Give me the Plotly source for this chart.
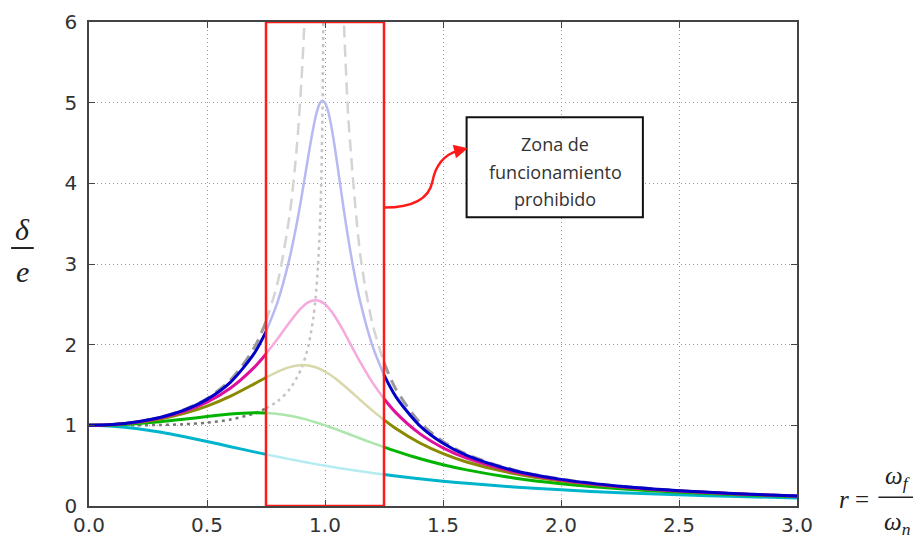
import plotly.graph_objects as go

# ---- data ----
r_grid = [0, 0.1, 0.2, 0.3, 0.4, 0.5, 0.6, 0.7, 0.75, 0.8, 0.85, 0.9, 0.93, 0.96, 0.98, 1.0,
          1.02, 1.04, 1.07, 1.1, 1.15, 1.2, 1.25, 1.3, 1.4, 1.5, 1.6, 1.8, 2.0, 2.25, 2.5, 2.75, 3.0]

zeta02 = [1, 1.009, 1.038, 1.090, 1.169, 1.288, 1.463, 1.719, 1.885, 2.076, 2.279, 2.457, 2.527, 2.552,
          2.538, 2.5, 2.439, 2.359, 2.213, 2.051, 1.780, 1.536, 1.329, 1.157, 0.900, 0.721, 0.593, 0.425,
          0.322, 0.240, 0.187, 0.150, 0.124]
zeta03 = [1, 1.008, 1.034, 1.078, 1.145, 1.238, 1.362, 1.514, 1.593, 1.667, 1.722, 1.747, 1.742, 1.720,
          1.697, 1.667, 1.630, 1.589, 1.519, 1.444, 1.313, 1.185, 1.067, 0.960, 0.784, 0.649, 0.546, 0.402,
          0.310, 0.234, 0.183, 0.148, 0.122]
zeta05 = [1, 1.005, 1.020, 1.044, 1.075, 1.109, 1.140, 1.155, 1.152, 1.140, 1.118, 1.087, 1.064, 1.038,
          1.020, 1.0, 0.980, 0.959, 0.926, 0.893, 0.837, 0.782, 0.730, 0.680, 0.589, 0.512, 0.448, 0.348,
          0.277, 0.215, 0.172, 0.141, 0.117]
zeta10 = [1, 0.990, 0.962, 0.917, 0.862, 0.8, 0.735, 0.671, 0.64, 0.610, 0.581, 0.553, 0.536, 0.520,
          0.510, 0.5, 0.490, 0.480, 0.466, 0.453, 0.431, 0.410, 0.390, 0.372, 0.338, 0.308, 0.281, 0.236,
          0.2, 0.165, 0.138, 0.117, 0.1]

r_z01 = [0, 0.1, 0.2, 0.3, 0.4, 0.5, 0.6, 0.7, 0.75, 0.8, 0.85, 0.88, 0.9, 0.92, 0.94, 0.96, 0.97, 0.98,
         0.99, 1.0, 1.01, 1.02, 1.03, 1.04, 1.05, 1.07, 1.09, 1.12, 1.15, 1.2, 1.25, 1.3, 1.4, 1.5, 1.6,
         1.8, 2.0, 2.25, 2.5, 2.75, 3.0]
zeta01 = [1, 1.010, 1.041, 1.097, 1.185, 1.322, 1.536, 1.891, 2.162, 2.538, 3.073, 3.495, 3.821, 4.172,
          4.522, 4.822, 4.931, 5.001, 5.025, 5.0, 4.926, 4.809, 4.655, 4.476, 4.279, 3.869, 3.473, 2.950,
          2.525, 1.995, 1.625, 1.356, 1.0, 0.778, 0.628, 0.441, 0.330, 0.245, 0.190, 0.152, 0.125]

r_z0_left = [0, 0.1, 0.2, 0.3, 0.4, 0.5, 0.6, 0.7, 0.75, 0.8, 0.85, 0.88, 0.9, 0.91, 0.92]
zeta0_left = [1, 1.010, 1.042, 1.099, 1.190, 1.333, 1.563, 1.961, 2.286, 2.778, 3.604, 4.433, 5.263, 5.817, 6.510]
r_z0_right = [1.07, 1.08, 1.09, 1.1, 1.15, 1.2, 1.25, 1.3, 1.4, 1.5, 1.6, 1.8, 2.0, 2.25, 2.5, 2.75, 3.0]
zeta0_right = [6.897, 6.010, 5.319, 4.762, 3.101, 2.273, 1.778, 1.449, 1.042, 0.8, 0.641, 0.446, 0.333,
               0.246, 0.190, 0.152, 0.125]

r_peak = [0, 0.1, 0.2, 0.3, 0.4, 0.5, 0.6, 0.7, 0.75, 0.8, 0.85, 0.9, 0.93, 0.95, 0.96, 0.97, 0.98, 0.985, 0.99, 0.995]
peak_locus = [1, 1.000, 1.001, 1.004, 1.013, 1.033, 1.072, 1.147, 1.210, 1.301, 1.446, 1.705, 1.992, 2.322,
              2.576, 2.953, 3.589, 4.129, 5.038, 7.10]

x_ticks = [0, 0.5, 1.0, 1.5, 2.0, 2.5, 3.0]
y_ticks = [0, 1, 2, 3, 4, 5, 6]
zone = (0.75, 1.25)
zone_text = ["Zona de", "funcionamiento", "prohibido"]

fig = go.Figure()


def seg(xs, ys, lo, hi):
    px, py = [], []
    for a, b in zip(xs, ys):
        if lo - 1e-9 <= a <= hi + 1e-9:
            px.append(a)
            py.append(b)
    return px, py


def add_curve(xs, ys, dark, light, dash="solid", w_out=3, w_in=2.5):
    parts = [(-1, zone[0], dark, w_out), (zone[0], zone[1], light, w_in), (zone[1], 10, dark, w_out)]
    for lo, hi, col, w in parts:
        px, py = seg(xs, ys, lo, hi)
        if len(px) >= 2:
            fig.add_trace(go.Scatter(x=px, y=py, mode="lines",
                                     line=dict(color=col, width=w, dash=dash, shape="spline", smoothing=0.8),
                                     hoverinfo="skip", showlegend=False))


add_curve(r_z0_left, zeta0_left, "#9a9a9a", "#d4d4d4", dash="12px,7px", w_out=3, w_in=2.5)
add_curve(r_z0_right, zeta0_right, "#9a9a9a", "#d4d4d4", dash="12px,7px", w_out=3, w_in=2.5)
add_curve(r_peak, peak_locus, "#777777", "#c4c4c4", dash="3px,4px", w_out=2.5, w_in=2.5)
add_curve(r_grid, zeta10, "#00b4cc", "#b4ecf2")
add_curve(r_grid, zeta05, "#00b400", "#ace6ac")
add_curve(r_grid, zeta03, "#8a8a00", "#d8d8aa")
add_curve(r_grid, zeta02, "#e0109c", "#f6aadc")
add_curve(r_z01, zeta01, "#0000c8", "#b8b8f2")

# forbidden zone rectangle
fig.add_shape(type="rect", xref="x", yref="y", x0=zone[0], x1=zone[1], y0=0, y1=6,
              line=dict(color="#ff1a1a", width=2.5))

# text box
fig.add_shape(type="rect", xref="x", yref="y", x0=1.60, x1=2.347, y0=3.58, y1=4.82,
              line=dict(color="#111111", width=2), fillcolor="white")
for txt, yy in zip(zone_text, [4.49, 4.14, 3.81]):
    fig.add_annotation(x=1.975, y=yy, xref="x", yref="y", text=txt, showarrow=False,
                       xanchor="center", yanchor="middle",
                       font=dict(family="Open Sans", size=18, color="#333333"))

# curved arrow
fig.add_shape(type="path", xref="x", yref="y",
              path="M 1.25 3.70 C 1.37 3.70 1.44 3.80 1.455 4.02 C 1.47 4.25 1.51 4.36 1.565 4.405",
              line=dict(color="#ff1a1a", width=2.5))
fig.add_annotation(x=1.605, y=4.435, ax=1.555, ay=4.40, xref="x", yref="y", axref="x", ayref="y",
                   text="", showarrow=True, arrowhead=2, arrowsize=1.1, arrowwidth=2.5,
                   arrowcolor="#ff1a1a")

lab_font = dict(family="Liberation Serif", size=30, color="#222222")
# y label: delta over e
fig.add_annotation(x=-0.094, y=0.572, xref="paper", yref="paper", text="<i>δ</i>", showarrow=False,
                   xanchor="center", yanchor="middle", font=lab_font)
fig.add_shape(type="line", xref="paper", yref="paper", x0=-0.110, x1=-0.078, y0=0.533, y1=0.533,
              line=dict(color="#222222", width=2))
fig.add_annotation(x=-0.094, y=0.485, xref="paper", yref="paper", text="<i>e</i>", showarrow=False,
                   xanchor="center", yanchor="middle", font=lab_font)

# x label: r = omega_f / omega_n
xl_font = dict(family="Liberation Serif", size=25, color="#222222")
fig.add_annotation(x=1.080, y=0.013, xref="paper", yref="paper", text="<i>r</i> =", showarrow=False,
                   xanchor="center", yanchor="middle", font=xl_font)
fig.add_shape(type="line", xref="paper", yref="paper", x0=1.115, x1=1.172, y0=0.018, y1=0.018,
              line=dict(color="#222222", width=1.5))
fig.add_annotation(x=1.142, y=0.058, xref="paper", yref="paper", text="<i>ω<sub>f</sub></i>",
                   showarrow=False, xanchor="center", yanchor="middle", font=xl_font)
fig.add_annotation(x=1.142, y=-0.036, xref="paper", yref="paper", text="<i>ω<sub>n</sub></i>",
                   showarrow=False, xanchor="center", yanchor="middle", font=xl_font)

axis_common = dict(showline=True, mirror="ticks", linecolor="#444444", linewidth=1.5,
                   ticks="inside", ticklen=6, tickwidth=1.2, tickcolor="#444444",
                   showgrid=True, gridcolor="#9a9a9a", griddash="1px,3px", gridwidth=1,
                   zeroline=False, automargin=False,
                   tickfont=dict(family="DejaVu Sans", size=20, color="#333333"))

fig.update_xaxes(range=[0, 3], tickvals=x_ticks, ticktext=[f"{v:.1f}" for v in x_ticks],
                 ticklabelstandoff=0, **axis_common)
fig.update_yaxes(range=[0, 6], tickvals=y_ticks, ticktext=[str(v) for v in y_ticks],
                 ticklabelstandoff=6, **axis_common)

fig.update_layout(width=921, height=538, margin=dict(l=81, r=132, t=14, b=40),
                  plot_bgcolor="white", paper_bgcolor="white", showlegend=False)

fig.write_html("out.html")
